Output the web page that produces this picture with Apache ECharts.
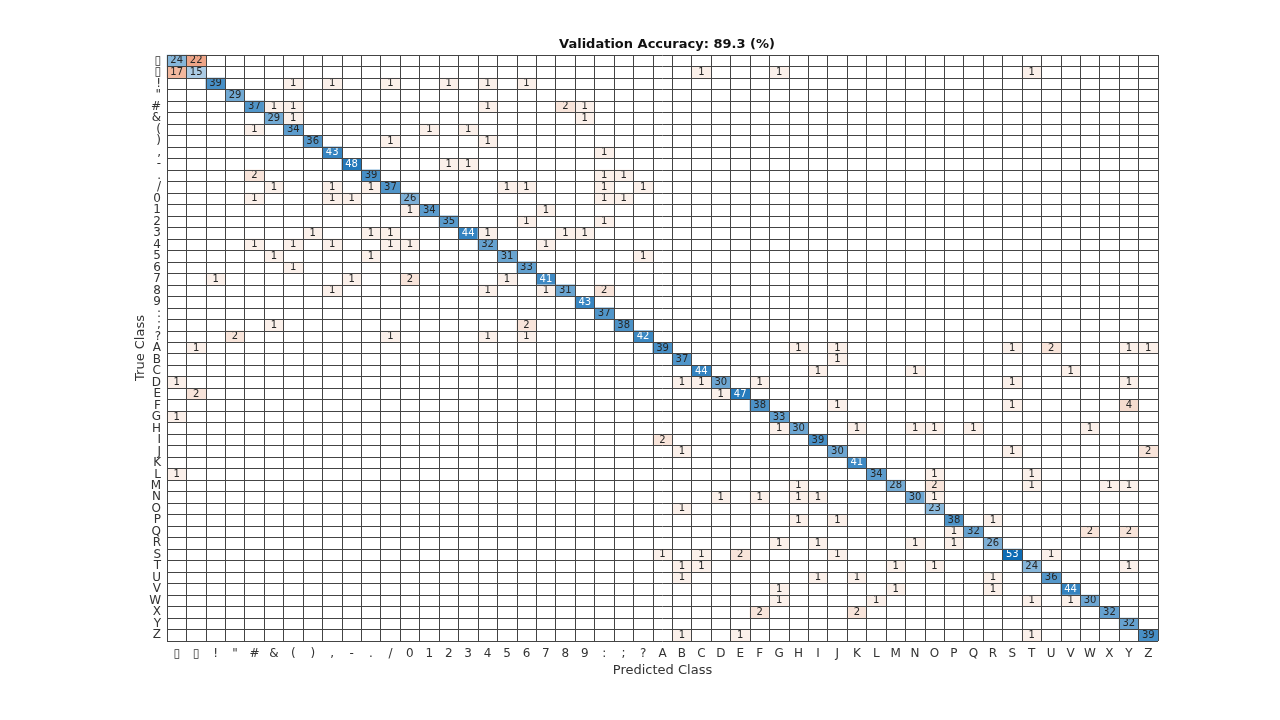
<!DOCTYPE html>
<html>
<head>
<meta charset="utf-8" />
<title>Validation confusion matrix</title>
<script type="text/javascript" src="https://cdn.jsdelivr.net/npm/echarts@6/dist/echarts.min.js"></script>
<style>
  html, body { margin: 0; padding: 0; background: #fff; }
  #main { width: 1280px; height: 720px; }
</style>
</head>
<body>
<div id="main"></div>
<script type="text/javascript">
// class names, same order on both axes (the first two are unprintable glyphs shown as boxes)
var classNames = ['\u25AF', '\u25AF', '!', '"', '#', '&', '(', ')', ',', '-', '.', '/',
  '0', '1', '2', '3', '4', '5', '6', '7', '8', '9', ':', ';', '?',
  'A', 'B', 'C', 'D', 'E', 'F', 'G', 'H', 'I', 'J', 'K', 'L', 'M',
  'N', 'O', 'P', 'Q', 'R', 'S', 'T', 'U', 'V', 'W', 'X', 'Y', 'Z'];

// correct predictions (diagonal), one per class
var diagCounts = [24, 15, 39, 29, 37, 29, 34, 36, 43, 48, 39, 37,
  26, 34, 35, 44, 32, 31, 33, 41, 31, 43, 37, 38, 42,
  39, 37, 44, 30, 47, 38, 33, 30, 39, 30, 41, 34, 28,
  30, 23, 38, 32, 26, 53, 24, 36, 44, 30, 32, 32, 39];

// mistakes: [true class index, predicted class index, count]
var offDiag = [
  [0, 1, 22],
  [1, 0, 17], [1, 27, 1], [1, 31, 1], [1, 44, 1],
  [2, 6, 1], [2, 8, 1], [2, 11, 1], [2, 14, 1], [2, 16, 1], [2, 18, 1],
  [4, 5, 1], [4, 6, 1], [4, 16, 1], [4, 20, 2], [4, 21, 1],
  [5, 6, 1], [5, 21, 1],
  [6, 4, 1], [6, 13, 1], [6, 15, 1],
  [7, 11, 1], [7, 16, 1],
  [8, 22, 1],
  [9, 14, 1], [9, 15, 1],
  [10, 4, 2], [10, 22, 1], [10, 23, 1],
  [11, 5, 1], [11, 8, 1], [11, 10, 1], [11, 17, 1], [11, 18, 1], [11, 22, 1], [11, 24, 1],
  [12, 4, 1], [12, 8, 1], [12, 9, 1], [12, 22, 1], [12, 23, 1],
  [13, 12, 1], [13, 19, 1],
  [14, 18, 1], [14, 22, 1],
  [15, 7, 1], [15, 10, 1], [15, 11, 1], [15, 16, 1], [15, 20, 1], [15, 21, 1],
  [16, 4, 1], [16, 6, 1], [16, 8, 1], [16, 11, 1], [16, 12, 1], [16, 19, 1],
  [17, 5, 1], [17, 10, 1], [17, 24, 1],
  [18, 6, 1],
  [19, 2, 1], [19, 9, 1], [19, 12, 2], [19, 17, 1],
  [20, 8, 1], [20, 16, 1], [20, 19, 1], [20, 22, 2],
  [23, 5, 1], [23, 18, 2],
  [24, 3, 2], [24, 11, 1], [24, 16, 1], [24, 18, 1],
  [25, 1, 1], [25, 32, 1], [25, 34, 1], [25, 43, 1], [25, 45, 2], [25, 49, 1], [25, 50, 1],
  [26, 34, 1],
  [27, 33, 1], [27, 38, 1], [27, 46, 1],
  [28, 0, 1], [28, 26, 1], [28, 27, 1], [28, 30, 1], [28, 43, 1], [28, 49, 1],
  [29, 1, 2], [29, 28, 1],
  [30, 34, 1], [30, 43, 1], [30, 49, 4],
  [31, 0, 1],
  [32, 31, 1], [32, 35, 1], [32, 38, 1], [32, 39, 1], [32, 41, 1], [32, 47, 1],
  [33, 25, 2],
  [34, 26, 1], [34, 43, 1], [34, 50, 2],
  [36, 0, 1], [36, 39, 1], [36, 44, 1],
  [37, 32, 1], [37, 39, 2], [37, 44, 1], [37, 48, 1], [37, 49, 1],
  [38, 28, 1], [38, 30, 1], [38, 32, 1], [38, 33, 1], [38, 39, 1],
  [39, 26, 1],
  [40, 32, 1], [40, 34, 1], [40, 42, 1],
  [41, 40, 1], [41, 47, 2], [41, 49, 2],
  [42, 31, 1], [42, 33, 1], [42, 38, 1], [42, 40, 1],
  [43, 25, 1], [43, 27, 1], [43, 29, 2], [43, 34, 1], [43, 45, 1],
  [44, 26, 1], [44, 27, 1], [44, 37, 1], [44, 39, 1], [44, 49, 1],
  [45, 26, 1], [45, 33, 1], [45, 35, 1], [45, 42, 1],
  [46, 31, 1], [46, 37, 1], [46, 42, 1],
  [47, 31, 1], [47, 36, 1], [47, 44, 1], [47, 46, 1],
  [48, 30, 2], [48, 35, 2],
  [50, 26, 1], [50, 29, 1], [50, 44, 1]
];

var correct = 0, total = 0;
for (var i = 0; i < diagCounts.length; i++) { correct += diagCounts[i]; }
total = correct;
for (var j = 0; j < offDiag.length; j++) { total += offDiag[j][2]; }
var accuracy = (100 * correct / total).toFixed(1);

// heatmap wants [x, y, value] = [predicted, true, count]
var diagData = diagCounts.map(function (v, k) {
  return { value: [k, k, v], label: { color: v >= 40 ? '#ffffff' : '#262626' } };
});
var offData = offDiag.map(function (d) { return [d[1], d[0], d[2]]; });

var gridColor = '#444';
var catAxis = {
  type: 'category',
  data: classNames,
  z: 5,
  axisTick: { show: false },
  axisLine: { show: false },
  splitLine: { show: true, interval: 0, lineStyle: { color: gridColor, width: 1 } },
  axisLabel: { interval: 0, color: '#333', fontSize: 12 },
  nameLocation: 'middle',
  nameMoveOverlap: false,
  nameTextStyle: { color: '#333', fontSize: 13 }
};

var myChart = echarts.init(document.getElementById('main'));
var option = {
  animation: false,
  textStyle: { fontFamily: 'DejaVu Sans' },
  title: {
    text: 'Validation Accuracy: ' + accuracy + ' (%)',
    left: 662, top: 33, textAlign: 'center',
    textStyle: { fontSize: 13, fontWeight: 'bold', color: '#111' }
  },
  grid: { left: 167, top: 55, width: 991, height: 586 },
  xAxis: echarts.util.merge({
    name: 'Predicted Class', nameGap: 23,
    axisLabel: { margin: 7 }
  }, catAxis),
  yAxis: echarts.util.merge({
    name: 'True Class', nameGap: 20, inverse: true,
    axisLabel: { margin: 6 }
  }, catAxis),
  visualMap: [
    { type: 'continuous', show: false, seriesIndex: 0, min: -5, max: 53,
      inRange: { color: ['#ffffff', '#0d6cb4'] } },
    { type: 'piecewise', show: false, seriesIndex: 1,
      pieces: [
        { lte: 1, color: '#fbf0ea' },
        { gt: 1, lte: 2, color: '#f8e4da' },
        { gt: 2, lte: 5, color: '#f5dccf' },
        { gt: 5, lte: 19, color: '#f3b89e' },
        { gt: 19, color: '#efa587' }
      ] }
  ],
  series: [
    {
      name: 'correct', type: 'heatmap', data: diagData,
      label: { show: true, fontSize: 10 },
      emphasis: { disabled: true }
    },
    {
      name: 'wrong', type: 'heatmap', data: offData,
      label: { show: true, fontSize: 10, color: '#262626' },
      emphasis: { disabled: true }
    }
  ]
};
myChart.setOption(option);
</script>
</body>
</html>
